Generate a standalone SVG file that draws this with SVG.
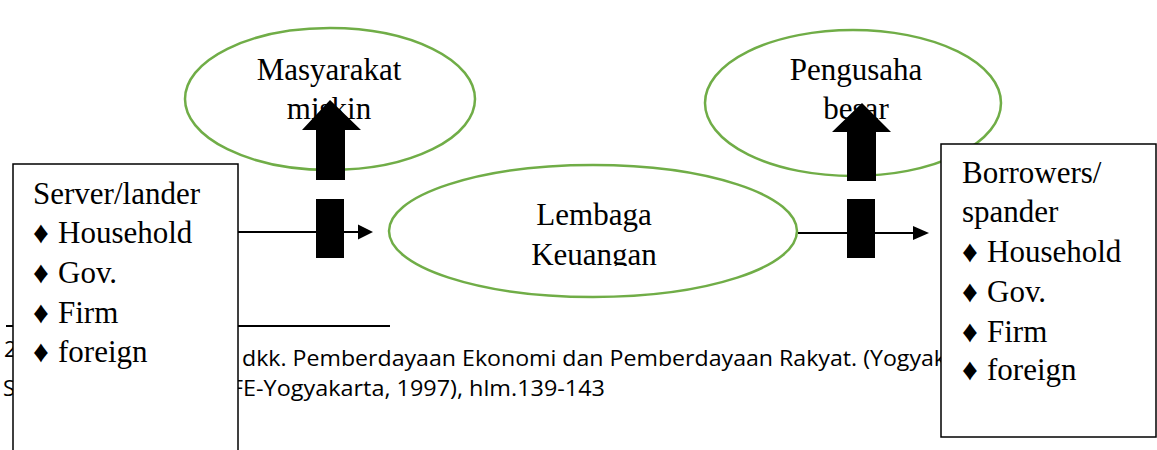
<svg xmlns="http://www.w3.org/2000/svg" width="1157" height="450" viewBox="0 0 1157 450">
<style>
.ell{fill:none;stroke:#70AD47;stroke-width:2.5}
.box{fill:#fff;stroke:#000;stroke-width:1.5}
.t{font-family:"Liberation Serif","Times New Roman",serif;font-size:31px;fill:#000}
.c{text-anchor:middle}
.fn{font-family:"Open Sans","Liberation Sans",sans-serif;font-size:22px;fill:#000}
.blk{fill:#000}
.ln{stroke:#000;stroke-width:2;fill:none}
</style>
<defs>
<clipPath id="clipL"><rect x="380" y="160" width="430" height="106"/></clipPath>
</defs>
<rect width="1157" height="450" fill="#fff"/>
<g id="footnote">
<line x1="6" y1="326" x2="390" y2="326" stroke="#000" stroke-width="2"/>
<text class="fn" x="4" y="357" font-size="13">2</text>
<text class="fn" x="242" y="366" textLength="704" lengthAdjust="spacingAndGlyphs">dkk. Pemberdayaan Ekonomi dan Pemberdayaan Rakyat. (Yogyak</text>
<text class="fn" x="3" y="396">S</text>
<text class="fn" x="231" y="396" textLength="374" lengthAdjust="spacingAndGlyphs">FE-Yogyakarta, 1997), hlm.139-143</text>
</g>
<g id="masyarakat">
<ellipse class="ell" cx="330" cy="99" rx="145" ry="71"/>
<text class="t c" x="329" y="80">Masyarakat</text>
<text class="t c" x="329" y="119">miskin</text>
</g>
<g id="pengusaha">
<ellipse class="ell" cx="853" cy="103" rx="148" ry="73"/>
<text class="t c" x="856" y="80">Pengusaha</text>
<text class="t c" x="856" y="119">besar</text>
</g>
<g id="lembaga">
<ellipse class="ell" cx="593" cy="231" rx="204" ry="66"/>
<g clip-path="url(#clipL)">
<text class="t c" x="594" y="225">Lembaga</text>
<text class="t c" x="594" y="265">Keuangan</text>
</g>
</g>
<g id="lender">
<rect class="box" x="13" y="164" width="225" height="300"/>
<text class="t" x="33" y="204">Server/lander</text>
<text class="t" x="33" y="243">♦<tspan x="58">Household</tspan></text>
<text class="t" x="33" y="283">♦<tspan x="58">Gov.</tspan></text>
<text class="t" x="33" y="323">♦<tspan x="58">Firm</tspan></text>
<text class="t" x="33" y="362">♦<tspan x="58">foreign</tspan></text>
</g>
<g id="borrower">
<rect class="box" x="941" y="144" width="215" height="293"/>
<text class="t" x="962" y="183">Borrowers/</text>
<text class="t" x="962" y="222">spander</text>
<text class="t" x="962" y="262">♦<tspan x="987">Household</tspan></text>
<text class="t" x="962" y="302">♦<tspan x="987">Gov.</tspan></text>
<text class="t" x="962" y="342">♦<tspan x="987">Firm</tspan></text>
<text class="t" x="962" y="380">♦<tspan x="987">foreign</tspan></text>
</g>
<g id="connectors">
<line class="ln" x1="238" y1="232" x2="360" y2="232"/>
<polygon class="blk" points="373,232 358,224.5 358,239.5"/>
<line class="ln" x1="798" y1="233" x2="915" y2="233"/>
<polygon class="blk" points="929,233 913,226 913,240"/>
<polygon class="blk" points="330,100 361,130 345,130 345,180 316,180 316,130 302,130"/>
<rect class="blk" x="316" y="199" width="28" height="59"/>
<polygon class="blk" points="862,103 891,132 876,132 876,181 847,181 847,132 832,132"/>
<rect class="blk" x="847" y="199" width="28" height="59"/>
</g>
</svg>
